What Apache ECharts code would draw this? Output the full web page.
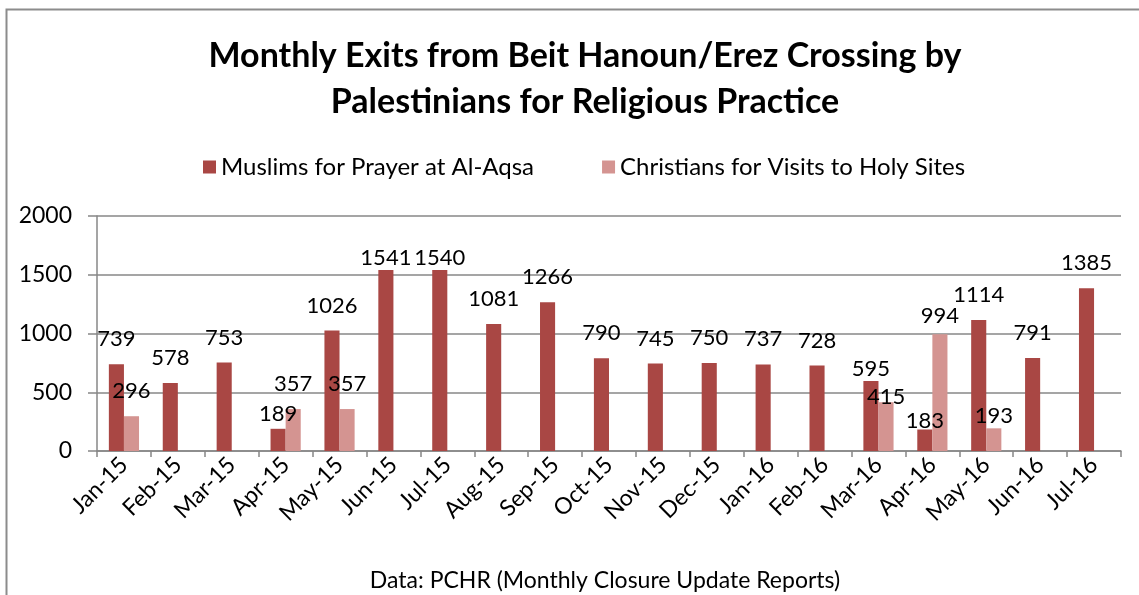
<!DOCTYPE html>
<html>
<head>
<meta charset="utf-8">
<script src="https://cdn.jsdelivr.net/npm/echarts@6/dist/echarts.min.js"></script>
<style>
  html, body { margin: 0; padding: 0; background: #fff; }
  #chart { width: 1139px; height: 595px; }
</style>
</head>
<body>
<div id="chart"></div>
<script>
// months on the x axis
const months = ['Jan-15', 'Feb-15', 'Mar-15', 'Apr-15', 'May-15', 'Jun-15', 'Jul-15', 'Aug-15', 'Sep-15',
  'Oct-15', 'Nov-15', 'Dec-15', 'Jan-16', 'Feb-16', 'Mar-16', 'Apr-16', 'May-16', 'Jun-16', 'Jul-16']
// Muslims for Prayer at Al-Aqsa
const muslims = [739, 578, 753, 189, 1026, 1541, 1540, 1081, 1266, 790, 745, 750, 737, 728, 595, 183, 1114, 791, 1385]
// Christians for Visits to Holy Sites ('-' = no exits that month)
const christians = [296, '-', '-', 357, 357, '-', '-', '-', '-', '-', '-', '-', '-', '-', 415, 994, 193, '-', '-']
const yTicks = { min: 0, max: 2000, interval: 500 }

// some value labels sit closer to their bar in the original (index -> label distance)
const muslimLabelDist = { 3: 4, 5: 1, 6: 1, 14: 1, 15: -2 }
const christianLabelDist = { 14: -6, 15: 7, 16: 1 }

const font = 'Lato, "Open Sans", sans-serif'
const myChart = echarts.init(document.getElementById('chart'))

const label = {
  show: true,
  position: 'top',
  distance: 14,
  color: '#000',
  fontSize: 22,
  fontFamily: font
}

function withLabels(values, dist) {
  return values.map((v, i) => dist[i] !== undefined ? { value: v, label: { distance: dist[i] } } : v)
}

const option = {
  animation: false,
  textStyle: { fontFamily: font },
  graphic: [
    {
      type: 'rect',
      shape: { x: 6.5, y: 9.5, width: 1150, height: 620 },
      style: { fill: 'none', stroke: '#8c8c8c', lineWidth: 2 }
    }
  ],
  title: [
    {
      text: 'Monthly Exits from Beit Hanoun/Erez Crossing by\nPalestinians for Religious Practice',
      left: 580,
      top: 28,
      textAlign: 'center',
      textStyle: { fontSize: 34, fontWeight: 'bold', color: '#000', lineHeight: 46, fontFamily: font }
    },
    {
      text: 'Data: PCHR (Monthly Closure Update Reports)',
      left: 600,
      top: 564,
      textAlign: 'center',
      textStyle: { fontSize: 23, fontWeight: 'normal', color: '#000', fontFamily: font }
    }
  ],
  legend: {
    left: 198,
    top: 150,
    itemWidth: 13,
    itemHeight: 13,
    itemGap: 68,
    icon: 'rect',
    textStyle: { fontSize: 24, color: '#000', fontFamily: font }
  },
  grid: { left: 97, right: 18, top: 216, bottom: 144 },
  xAxis: {
    type: 'category',
    data: months,
    axisLine: { lineStyle: { color: '#878787', width: 1.5 } },
    axisTick: { show: true, length: 6, lineStyle: { color: '#878787', width: 1.5 } },
    axisLabel: { rotate: 45, fontSize: 23, color: '#000', margin: 10, interval: 0, fontFamily: font }
  },
  yAxis: {
    type: 'value',
    min: yTicks.min,
    max: yTicks.max,
    interval: yTicks.interval,
    axisLine: { show: true, lineStyle: { color: '#878787', width: 1.5 } },
    axisTick: { show: true, length: 9, lineStyle: { color: '#878787', width: 1.5 } },
    splitLine: { lineStyle: { color: '#878787', width: 1.5 } },
    axisLabel: { fontSize: 23, color: '#000', margin: 25, fontFamily: font, formatter: v => String(v) }
  },
  series: [
    {
      name: 'Muslims for Prayer at Al-Aqsa',
      type: 'bar',
      data: withLabels(muslims, muslimLabelDist),
      barGap: '0%',
      barCategoryGap: '44%',
      itemStyle: { color: '#A94744' },
      label: label
    },
    {
      name: 'Christians for Visits to Holy Sites',
      type: 'bar',
      data: withLabels(christians, christianLabelDist),
      itemStyle: { color: '#D49491' },
      label: label
    }
  ]
}

myChart.setOption(option)
</script>
</body>
</html>
